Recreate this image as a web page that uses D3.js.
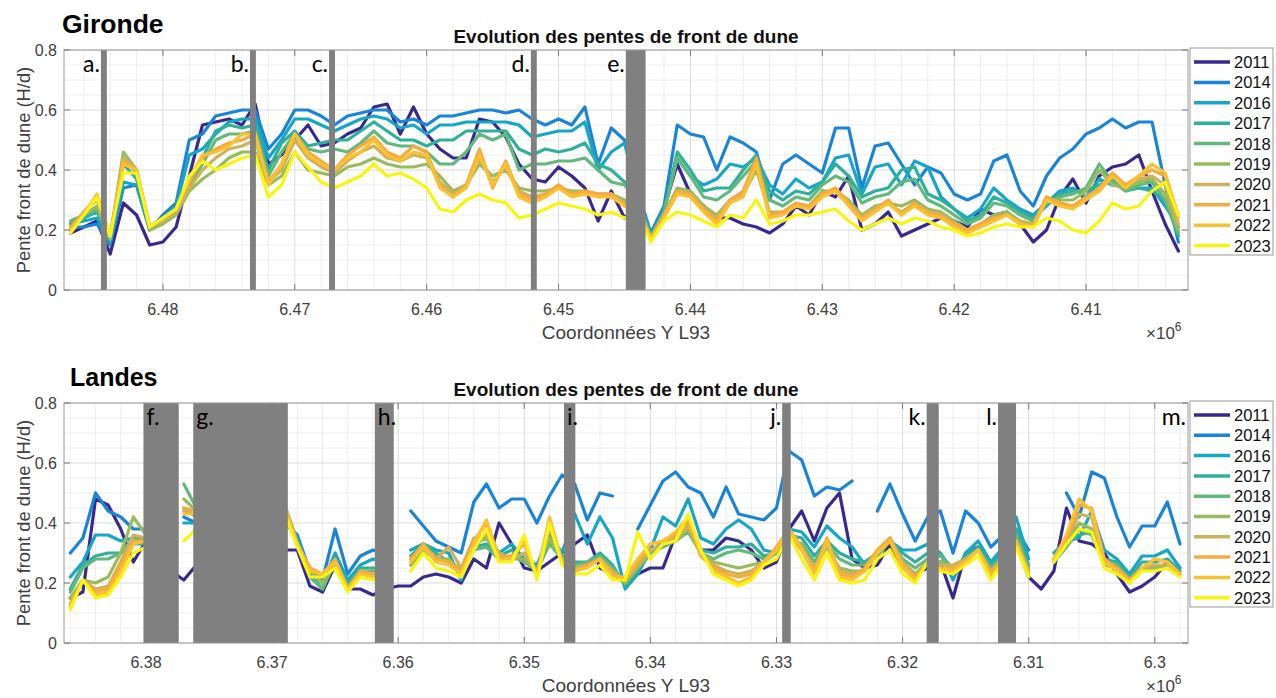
<!DOCTYPE html>
<html><head><meta charset="utf-8">
<script src="https://cdn.jsdelivr.net/npm/d3@7"></script>
<style>body{margin:0;background:#fff}</style>
</head><body><svg id="c" width="1276" height="698"></svg>
<script>
const years = ["2011","2014","2016","2017","2018","2019","2020","2021","2022","2023"];
const colors = ["#38288f","#1a84d8","#17a6c8","#2fb09c","#62b97b","#98bc5d","#cdb25c","#f6aa3f","#fbc12e","#f9f513"];

// sample positions (Coordonnées Y L93)
const topX = d3.range(6487000, 6402999, -1000);
const botX = d3.range(6386000, 6297999, -1000);

// ---- Gironde ----
const t2011 = [0.19,0.21,0.23,0.12,0.29,0.25,0.15,0.16,0.21,0.38, 0.55,0.56,0.57,0.55,0.62,0.42,0.45,0.50,0.55,0.48, 0.49,0.52,0.54,0.61,0.62,0.52,0.61,0.52,0.47,0.44, 0.44,0.57,0.56,0.51,0.42,0.37,0.36,0.41,0.38,0.34, 0.23,0.33,0.24,0.28,0.18,0.27,0.42,0.32,0.28,0.24, 0.24,0.22,0.21,0.19,0.22,0.28,0.25,0.33,0.31,0.38, 0.20,0.22,0.26,0.18,0.20,0.22,0.24,0.23,0.21,0.27, 0.25,0.26,0.22,0.16,0.20,0.31,0.37,0.29,0.38,0.41, 0.42,0.45,0.33,0.22,0.13];
const t2014 = [0.21,0.21,0.22,0.15,0.34,0.35,0.20,0.25,0.29,0.50, 0.52,0.58,0.59,0.60,0.60,0.47,0.52,0.60,0.60,0.58, 0.55,0.58,0.59,0.60,0.60,0.56,0.57,0.55,0.58,0.58, 0.59,0.60,0.60,0.59,0.60,0.57,0.55,0.57,0.55,0.61, 0.42,0.54,0.50,0.33,0.19,0.28,0.55,0.52,0.51,0.40, 0.51,0.49,0.46,0.30,0.42,0.45,0.42,0.39,0.54,0.54, 0.34,0.48,0.49,0.42,0.35,0.41,0.39,0.32,0.30,0.32, 0.43,0.45,0.33,0.28,0.38,0.44,0.47,0.52,0.54,0.57, 0.54,0.56,0.56,0.35,0.16];
const t2016 = [0.22,0.23,0.24,0.16,0.36,0.35,0.20,0.24,0.28,0.45, 0.47,0.52,0.56,0.57,0.57,0.44,0.50,0.57,0.57,0.55, 0.53,0.55,0.57,0.58,0.57,0.54,0.55,0.52,0.55,0.55, 0.56,0.56,0.56,0.56,0.55,0.51,0.52,0.53,0.53,0.56, 0.40,0.46,0.49,0.32,0.18,0.27,0.44,0.38,0.35,0.37, 0.42,0.41,0.44,0.35,0.32,0.37,0.34,0.36,0.44,0.45, 0.32,0.41,0.42,0.35,0.43,0.41,0.31,0.27,0.24,0.27, 0.34,0.30,0.27,0.25,0.29,0.33,0.34,0.31,0.37,0.35, 0.35,0.34,0.34,0.28,0.21];
const t2017 = [0.22,0.24,0.26,0.17,0.42,0.37,0.21,0.24,0.27,0.36, 0.44,0.53,0.55,0.54,0.55,0.40,0.49,0.53,0.48,0.49, 0.50,0.50,0.53,0.56,0.53,0.50,0.50,0.48,0.50,0.50, 0.53,0.53,0.53,0.53,0.47,0.45,0.47,0.46,0.47,0.49, 0.42,0.40,0.36,0.30,0.18,0.26,0.46,0.40,0.33,0.34, 0.34,0.40,0.45,0.33,0.30,0.33,0.32,0.36,0.42,0.38, 0.31,0.33,0.34,0.40,0.41,0.32,0.30,0.27,0.23,0.25, 0.31,0.29,0.26,0.24,0.28,0.32,0.33,0.33,0.35,0.37, 0.33,0.34,0.33,0.30,0.18];
const t2018 = [0.23,0.25,0.27,0.17,0.44,0.39,0.21,0.23,0.26,0.35, 0.42,0.50,0.52,0.52,0.53,0.38,0.46,0.52,0.47,0.46, 0.47,0.46,0.49,0.53,0.49,0.48,0.48,0.46,0.42,0.42, 0.46,0.52,0.50,0.52,0.40,0.42,0.42,0.43,0.43,0.44, 0.40,0.36,0.35,0.30,0.18,0.26,0.44,0.38,0.31,0.30, 0.33,0.38,0.43,0.30,0.28,0.31,0.30,0.35,0.38,0.36, 0.29,0.31,0.32,0.36,0.37,0.30,0.28,0.25,0.22,0.24, 0.29,0.28,0.25,0.23,0.29,0.31,0.32,0.34,0.42,0.36, 0.33,0.35,0.36,0.30,0.19];
const t2019 = [0.21,0.25,0.28,0.17,0.46,0.40,0.20,0.22,0.25,0.33, 0.37,0.40,0.44,0.46,0.46,0.35,0.38,0.46,0.40,0.39, 0.38,0.41,0.42,0.44,0.42,0.41,0.41,0.42,0.38,0.33, 0.35,0.42,0.38,0.40,0.34,0.33,0.33,0.34,0.33,0.33, 0.32,0.32,0.30,0.28,0.17,0.25,0.34,0.33,0.28,0.25, 0.30,0.32,0.40,0.26,0.26,0.28,0.28,0.33,0.33,0.30, 0.25,0.28,0.29,0.28,0.30,0.27,0.26,0.23,0.20,0.22, 0.25,0.26,0.23,0.22,0.30,0.30,0.30,0.33,0.40,0.35, 0.34,0.36,0.37,0.32,0.20];
const t2020 = [0.20,0.26,0.30,0.18,0.44,0.40,0.21,0.23,0.26,0.34, 0.40,0.44,0.47,0.48,0.50,0.36,0.40,0.50,0.44,0.41, 0.39,0.43,0.46,0.48,0.44,0.43,0.45,0.44,0.36,0.32, 0.35,0.44,0.36,0.41,0.33,0.31,0.32,0.35,0.32,0.32, 0.32,0.32,0.29,0.28,0.17,0.25,0.33,0.32,0.27,0.24, 0.30,0.32,0.42,0.25,0.26,0.28,0.28,0.32,0.33,0.29, 0.24,0.27,0.29,0.26,0.29,0.26,0.25,0.22,0.20,0.22, 0.24,0.25,0.23,0.22,0.31,0.29,0.28,0.31,0.33,0.38, 0.35,0.37,0.38,0.35,0.22];
const t2021 = [0.21,0.26,0.31,0.18,0.43,0.40,0.21,0.24,0.27,0.36, 0.44,0.47,0.49,0.50,0.52,0.36,0.42,0.52,0.46,0.43, 0.40,0.45,0.48,0.51,0.46,0.44,0.48,0.46,0.35,0.31, 0.35,0.47,0.34,0.43,0.32,0.30,0.32,0.35,0.32,0.33, 0.32,0.32,0.28,0.28,0.17,0.25,0.33,0.32,0.27,0.23, 0.30,0.33,0.44,0.25,0.26,0.29,0.28,0.32,0.34,0.29, 0.24,0.27,0.30,0.25,0.29,0.26,0.25,0.22,0.20,0.22, 0.24,0.25,0.22,0.21,0.31,0.29,0.28,0.31,0.34,0.39, 0.35,0.38,0.40,0.38,0.25];
const t2022 = [0.20,0.25,0.32,0.18,0.42,0.40,0.21,0.24,0.27,0.37, 0.45,0.46,0.48,0.52,0.52,0.35,0.42,0.52,0.45,0.42, 0.40,0.44,0.46,0.50,0.45,0.43,0.46,0.45,0.34,0.31, 0.34,0.45,0.35,0.42,0.31,0.29,0.31,0.34,0.31,0.32, 0.31,0.31,0.28,0.27,0.17,0.24,0.32,0.31,0.26,0.22, 0.29,0.31,0.42,0.24,0.25,0.28,0.27,0.31,0.33,0.28, 0.23,0.26,0.29,0.25,0.28,0.25,0.24,0.21,0.19,0.21, 0.23,0.25,0.22,0.21,0.30,0.28,0.27,0.30,0.33,0.38, 0.34,0.38,0.42,0.39,0.24];
const t2023 = [0.19,0.25,0.31,0.18,0.39,0.39,0.21,0.24,0.27,0.38, 0.43,0.40,0.42,0.44,0.45,0.31,0.35,0.46,0.41,0.36, 0.34,0.36,0.38,0.42,0.38,0.39,0.37,0.34,0.27,0.26, 0.30,0.32,0.30,0.29,0.24,0.25,0.27,0.29,0.28,0.27, 0.25,0.26,0.24,0.26,0.16,0.23,0.26,0.25,0.23,0.21, 0.25,0.24,0.30,0.22,0.23,0.25,0.25,0.26,0.27,0.23, 0.20,0.22,0.24,0.22,0.24,0.23,0.21,0.20,0.18,0.19, 0.21,0.22,0.21,0.21,0.24,0.23,0.20,0.19,0.23,0.29, 0.27,0.28,0.33,0.36,0.25];

// ---- Landes ----
const n = null;
const b2011 = [0.15,0.17,0.48,0.46,0.38,0.27,0.34,n,0.24,0.21, 0.26,n,n,n,n,n,n,0.31,0.31,0.19, 0.17,0.26,0.18,0.18,0.16,0.18,0.19,0.19,0.22,0.23, 0.22,0.20,0.28,0.25,0.40,0.33,0.25,0.24,0.27,0.30, 0.33,0.36,0.25,0.23,0.20,0.23,0.25,0.25,0.36,0.42, 0.31,0.31,0.35,0.34,0.31,0.25,0.27,0.38,0.44,0.34, 0.45,0.50,0.28,0.25,0.26,0.33,0.25,0.23,0.25,0.27, 0.15,0.30,0.32,0.27,0.30,0.33,0.22,0.18,0.24,0.45, 0.34,0.33,0.30,0.23,0.17,0.19,0.22,0.27,0.23];
const b2014 = [0.30,0.35,0.50,0.44,0.42,0.38,0.38,n,n,0.42, 0.40,n,n,n,n,n,n,0.40,0.36,0.24, 0.21,0.38,0.23,0.29,0.31,0.30,n,0.44,0.39,0.34, 0.32,0.30,0.47,0.53,0.45,0.48,0.48,0.40,0.49,0.56, 0.53,0.41,0.50,0.49,n,0.38,0.46,0.54,0.57,0.52, 0.50,0.42,0.52,0.43,0.42,0.41,0.45,0.64,0.61,0.49, 0.52,0.51,0.54,n,0.44,0.53,0.43,0.34,0.42,0.44, 0.30,0.44,0.40,0.32,0.36,0.38,0.31,n,n,0.50, 0.42,0.57,0.55,0.42,0.32,0.39,0.39,0.47,0.33];
const b2016 = [0.22,0.27,0.36,0.36,0.34,0.35,0.35,n,n,0.40, 0.40,n,n,n,n,n,n,0.42,0.35,0.24, 0.20,0.30,0.21,0.26,0.28,0.27,n,0.31,0.33,0.31, 0.30,0.21,0.32,0.36,0.30,0.33,0.28,0.26,0.36,0.30, 0.43,0.33,0.42,0.35,0.18,0.23,0.31,0.42,0.39,0.48, 0.35,0.33,0.38,0.41,0.38,0.31,0.30,0.38,0.37,0.32, 0.39,0.35,0.32,0.26,0.30,0.34,0.31,0.31,0.33,0.30, 0.21,0.30,0.34,0.27,0.32,0.42,0.28,n,0.30,0.34, 0.35,0.44,0.31,0.28,0.23,0.29,0.29,0.31,0.25];
const b2017 = [0.18,0.26,0.29,0.30,0.30,0.33,0.33,n,n,0.45, 0.42,n,n,n,n,n,n,0.44,0.34,0.23, 0.18,0.28,0.20,0.25,0.25,0.25,n,0.29,0.33,0.30, 0.27,0.23,0.32,0.33,0.29,0.31,0.27,0.25,0.34,0.29, 0.27,0.27,0.30,0.26,0.19,0.24,0.30,0.34,0.35,0.38, 0.31,0.30,0.32,0.32,0.33,0.29,0.30,0.36,0.35,0.29, 0.34,0.30,0.28,0.27,0.30,0.34,0.30,0.27,0.30,0.30, 0.24,0.29,0.32,0.26,0.30,0.38,0.26,n,0.28,0.33, 0.36,0.37,0.28,0.27,0.22,0.27,0.27,0.28,0.24];
const b2018 = [0.17,0.25,0.28,0.28,0.30,0.35,0.34,n,n,0.53, 0.45,n,n,n,n,n,n,0.46,0.34,0.22, 0.18,0.27,0.19,0.24,0.24,0.24,n,0.26,0.30,0.29, 0.27,0.23,0.31,0.32,0.28,0.29,0.27,0.24,0.33,0.28, 0.26,0.27,0.29,0.25,0.20,0.25,0.30,0.32,0.34,0.37, 0.30,0.28,0.30,0.31,0.30,0.28,0.30,0.35,0.33,0.27, 0.33,0.28,0.26,0.26,0.29,0.34,0.28,0.25,0.28,0.29, 0.25,0.28,0.31,0.25,0.29,0.36,0.25,n,0.27,0.32, 0.38,0.36,0.27,0.26,0.21,0.25,0.25,0.26,0.23];
const b2019 = [0.15,0.21,0.20,0.22,0.30,0.42,0.36,n,n,0.48, 0.44,n,n,n,n,n,n,0.45,0.33,0.24, 0.20,0.26,0.18,0.23,0.23,0.23,n,0.26,0.31,0.28, 0.28,0.24,0.33,0.35,0.28,0.28,0.28,0.24,0.35,0.28, 0.25,0.26,0.28,0.24,0.20,0.25,0.30,0.33,0.34,0.38, 0.30,0.27,0.26,0.25,0.26,0.27,0.30,0.36,0.31,0.25, 0.32,0.25,0.24,0.24,0.30,0.35,0.27,0.23,0.27,0.27, 0.25,0.28,0.31,0.24,0.28,0.34,0.24,n,0.27,0.33, 0.40,0.38,0.26,0.25,0.21,0.24,0.25,0.25,0.23];
const b2020 = [0.13,0.21,0.18,0.19,0.27,0.36,0.35,n,n,0.44, 0.43,n,n,n,n,n,n,0.46,0.33,0.25, 0.22,0.27,0.18,0.24,0.23,0.23,n,0.28,0.32,0.28, 0.32,0.25,0.35,0.36,0.30,0.28,0.30,0.24,0.38,0.28, 0.25,0.26,0.28,0.24,0.21,0.26,0.31,0.33,0.35,0.39, 0.30,0.26,0.24,0.23,0.24,0.27,0.31,0.37,0.31,0.25, 0.33,0.24,0.23,0.24,0.30,0.35,0.27,0.22,0.27,0.26, 0.26,0.28,0.31,0.24,0.28,0.34,0.24,n,0.28,0.34, 0.43,0.42,0.27,0.25,0.21,0.25,0.26,0.26,0.23];
const b2021 = [0.13,0.21,0.17,0.18,0.26,0.34,0.34,n,n,0.45, 0.44,n,n,n,n,n,n,0.46,0.33,0.25, 0.23,0.28,0.18,0.24,0.23,0.23,n,0.28,0.33,0.28, 0.27,0.24,0.34,0.40,0.29,0.29,0.33,0.23,0.41,0.27, 0.24,0.26,0.28,0.23,0.21,0.27,0.33,0.34,0.36,0.40, 0.29,0.25,0.23,0.22,0.23,0.27,0.32,0.38,0.32,0.24, 0.35,0.23,0.22,0.25,0.31,0.35,0.26,0.22,0.27,0.25, 0.25,0.27,0.31,0.23,0.28,0.34,0.23,n,0.28,0.35, 0.46,0.45,0.28,0.25,0.21,0.25,0.28,0.27,0.23];
const b2022 = [0.12,0.21,0.16,0.17,0.24,0.33,0.34,n,n,0.43, 0.43,n,n,n,n,n,n,0.45,0.33,0.24, 0.23,0.27,0.18,0.23,0.22,0.22,n,0.27,0.32,0.27, 0.26,0.23,0.33,0.41,0.28,0.28,0.34,0.22,0.42,0.27, 0.24,0.25,0.28,0.22,0.22,0.28,0.33,0.34,0.37,0.42, 0.30,0.24,0.22,0.20,0.22,0.27,0.31,0.38,0.31,0.23, 0.34,0.22,0.21,0.24,0.30,0.34,0.25,0.21,0.27,0.25, 0.24,0.27,0.31,0.22,0.28,0.34,0.23,n,0.28,0.36, 0.48,0.44,0.27,0.24,0.20,0.25,0.28,0.27,0.23];
const b2023 = [0.11,0.21,0.15,0.16,0.22,0.30,0.32,n,n,0.34, 0.38,n,n,n,n,n,n,0.43,0.32,0.22, 0.22,0.25,0.17,0.22,0.21,0.21,n,0.24,0.30,0.25, 0.24,0.22,0.31,0.38,0.27,0.27,0.36,0.21,0.40,0.26, 0.23,0.23,0.26,0.21,0.21,0.37,0.28,0.33,0.34,0.43, 0.31,0.23,0.21,0.19,0.21,0.26,0.28,0.36,0.28,0.21, 0.30,0.21,0.20,0.21,0.28,0.31,0.23,0.20,0.27,0.24, 0.23,0.26,0.29,0.21,0.27,0.32,0.22,n,0.27,0.33, 0.38,0.37,0.25,0.23,0.20,0.24,0.24,0.25,0.22];

// masked zones (gray bands) and their labels
const topBands = [[6484700,6484250],[6473400,6472950],[6467400,6466950],[6452100,6451650],[6444900,6443400]];
const topBandLabels = ["a.","b.","c.","d.","e."];
const topBandLabelSide = ["out","out","out","out","out"];
const botBands = [[6380200,6377400],[6376250,6368750],[6361850,6360350],[6346850,6345950],[6329550,6328870],[6318090,6317130],[6312430,6311000]];
const botBandLabels = ["f.","g.","h.","i.","j.","k.","l."];
const botBandLabelSide = ["in","in","in","in","out","out","out"];

const topTicks = [6480000,6470000,6460000,6450000,6440000,6430000,6420000,6410000];
const topTickLabels = ["6.48","6.47","6.46","6.45","6.44","6.43","6.42","6.41"];
const botTicks = [6380000,6370000,6360000,6350000,6340000,6330000,6320000,6310000,6300000];
const botTickLabels = ["6.38","6.37","6.36","6.35","6.34","6.33","6.32","6.31","6.3"];
const yTicks = [0,0.2,0.4,0.6,0.8];
const yTickLabels = ["0","0.2","0.4","0.6","0.8"];

const svg = d3.select("#c");
svg.append("rect").attr("width",1276).attr("height",698).attr("fill","#fff");
const MF = "'Liberation Sans', Arial, Helvetica, sans-serif";
const CF = "Lato, 'Open Sans', sans-serif";

function panel(o){
  const L=64,R=1188,T=o.top,B=o.top+240;
  const x = d3.scaleLinear().domain(o.domain).range([L,R]);
  const y = d3.scaleLinear().domain([0,0.8]).range([B,T]);
  const g = svg.append("g");
  g.append("rect").attr("x",L).attr("y",T).attr("width",R-L).attr("height",B-T).attr("fill","#fff");
  // minor grid
  const [d0,d1]=o.domain;
  const minorX = d3.range(Math.ceil(d1/2000)*2000, d0, 2000).filter(v=>v%10000!==0);
  g.selectAll(".mx").data(minorX).enter().append("line")
    .attr("x1",d=>x(d)).attr("x2",d=>x(d)).attr("y1",T).attr("y2",B)
    .attr("stroke","#eeeeee").attr("stroke-width",1);
  const minorY = [0.05,0.1,0.15,0.25,0.3,0.35,0.45,0.5,0.55,0.65,0.7,0.75];
  g.selectAll(".my").data(minorY).enter().append("line")
    .attr("x1",L).attr("x2",R).attr("y1",d=>y(d)).attr("y2",d=>y(d))
    .attr("stroke","#eeeeee").attr("stroke-width",1);
  // major grid
  g.selectAll(".gx").data(o.ticks).enter().append("line")
    .attr("x1",d=>x(d)).attr("x2",d=>x(d)).attr("y1",T).attr("y2",B)
    .attr("stroke","#dcdcdc").attr("stroke-width",1);
  g.selectAll(".gy").data(yTicks).enter().append("line")
    .attr("x1",L).attr("x2",R).attr("y1",d=>y(d)).attr("y2",d=>y(d))
    .attr("stroke","#dcdcdc").attr("stroke-width",1);
  // series
  const clip = "clip"+o.top;
  svg.append("clipPath").attr("id",clip).append("rect").attr("x",L).attr("y",T).attr("width",R-L).attr("height",B-T);
  const lg = g.append("g").attr("clip-path",`url(#${clip})`);
  const line = d3.line().defined(d=>d[1]!==null).x(d=>x(d[0])).y(d=>y(d[1]));
  o.series.forEach((s,i)=>{
    const pts = o.xs.map((xv,j)=>[xv,s[j]]);
    lg.append("path").attr("d",line(pts)).attr("fill","none")
      .attr("stroke",colors[i]).attr("stroke-width",3.2)
      .attr("stroke-linejoin","round").attr("stroke-linecap","round");
  });
  // gray bands
  o.bands.forEach((b,i)=>{
    const x0=x(b[0]), x1=x(b[1]);
    g.append("rect").attr("x",x0).attr("y",T).attr("width",x1-x0).attr("height",B-T).attr("fill","#808080");
    const inside = o.sides[i]==="in";
    g.append("text").attr("x", inside? x0+3 : x0-1).attr("y",T+22)
      .attr("text-anchor", inside? "start":"end")
      .attr("font-family",CF).attr("font-size",23).attr("fill","#000").text(o.labels[i]);
  });
  if(o.extraLabel){
    g.append("text").attr("x",R-2).attr("y",T+22).attr("text-anchor","end")
      .attr("font-family",CF).attr("font-size",23).attr("fill","#000").text(o.extraLabel);
  }
  // box
  g.append("rect").attr("x",L).attr("y",T).attr("width",R-L).attr("height",B-T)
    .attr("fill","none").attr("stroke","#9a9a9a").attr("stroke-width",1);
  // ticks
  o.ticks.forEach((t,i)=>{
    const xx=x(t);
    g.append("line").attr("x1",xx).attr("x2",xx).attr("y1",B).attr("y2",B-6).attr("stroke","#7a7a7a");
    g.append("line").attr("x1",xx).attr("x2",xx).attr("y1",T).attr("y2",T+6).attr("stroke","#7a7a7a");
    g.append("text").attr("x",xx).attr("y",B+25).attr("text-anchor","middle")
      .attr("font-family",MF).attr("font-size",16).attr("fill","#404040").text(o.tickLabels[i]);
  });
  yTicks.forEach((t,i)=>{
    const yy=y(t);
    g.append("line").attr("x1",L).attr("x2",L+6).attr("y1",yy).attr("y2",yy).attr("stroke","#7a7a7a");
    g.append("line").attr("x1",R).attr("x2",R-6).attr("y1",yy).attr("y2",yy).attr("stroke","#7a7a7a");
    g.append("text").attr("x",L-7).attr("y",yy).attr("dy","0.36em").attr("text-anchor","end")
      .attr("font-family",MF).attr("font-size",16).attr("fill","#404040").text(yTickLabels[i]);
  });
  // titles
  g.append("text").attr("x",o.nameX).attr("y",T-17).attr("font-family",MF).attr("font-weight","bold")
    .attr("font-size",o.nameSize).attr("fill","#000").text(o.name);
  g.append("text").attr("x",(L+R)/2).attr("y",T-7).attr("text-anchor","middle").attr("font-family",MF)
    .attr("font-weight","bold").attr("font-size",19).attr("fill","#111").text("Evolution des pentes de front de dune");
  g.append("text").attr("x",(L+R)/2).attr("y",B+49).attr("text-anchor","middle").attr("font-family",MF)
    .attr("font-size",19).attr("fill","#404040").text("Coordonnées Y L93");
  g.append("text").attr("transform",`translate(30,${(T+B)/2}) rotate(-90)`).attr("text-anchor","middle")
    .attr("font-family",MF).attr("font-size",18.3).attr("fill","#404040").text("Pente front de dune (H/d)");
  const ex = g.append("text").attr("x",1146).attr("y",B+49).attr("font-family",MF).attr("font-size",17).attr("fill","#404040");
  ex.append("tspan").text("×10");
  ex.append("tspan").attr("dy",-8).attr("font-size",12).text("6");
  // legend
  const lx=1190, ly=o.top-2, lh=o.legH;
  g.append("rect").attr("x",lx).attr("y",ly).attr("width",83).attr("height",lh)
    .attr("fill","#fff").attr("stroke","#9a9a9a");
  years.forEach((yr,i)=>{
    const yy = ly+14+i*o.legStep;
    g.append("line").attr("x1",lx+4).attr("x2",lx+40).attr("y1",yy).attr("y2",yy)
      .attr("stroke",colors[i]).attr("stroke-width",3.5);
    g.append("text").attr("x",lx+44).attr("y",yy).attr("dy","0.36em").attr("font-family",MF)
      .attr("font-size",16.5).attr("fill","#111").text(yr);
  });
}

panel({top:50, domain:[6487500,6402270], xs:topX,
  series:[t2011,t2014,t2016,t2017,t2018,t2019,t2020,t2021,t2022,t2023],
  bands:topBands, labels:topBandLabels, sides:topBandLabelSide,
  ticks:topTicks, tickLabels:topTickLabels, name:"Gironde", nameX:62, nameSize:26.5, legH:207, legStep:20.4});
panel({top:403, domain:[6386500,6297364], xs:botX,
  series:[b2011,b2014,b2016,b2017,b2018,b2019,b2020,b2021,b2022,b2023],
  bands:botBands, labels:botBandLabels, sides:botBandLabelSide, extraLabel:"m.",
  ticks:botTicks, tickLabels:botTickLabels, name:"Landes", nameX:70, nameSize:25, legH:206, legStep:20.3});
</script></body></html>
